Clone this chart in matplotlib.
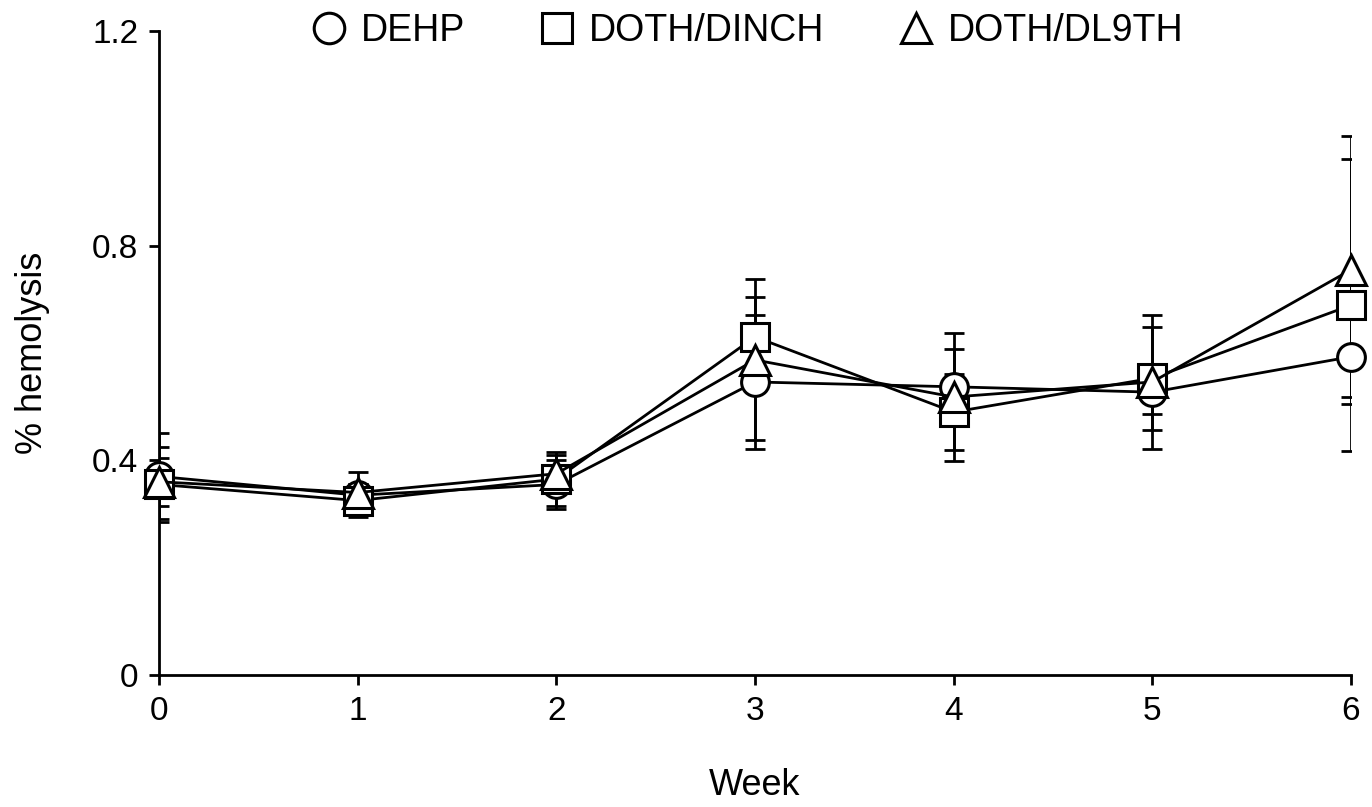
import matplotlib
matplotlib.use('Agg')
import matplotlib.pyplot as plt

plt.rcParams['font.family'] = ['Liberation Sans', 'DejaVu Sans']

weeks = [0, 1, 2, 3, 4, 5, 6]

dehp = [0.37, 0.335, 0.355, 0.546, 0.537, 0.527, 0.593]
dehp_err = [0.08, 0.02, 0.045, 0.125, 0.07, 0.04, 0.075]

dinch = [0.355, 0.325, 0.365, 0.63, 0.49, 0.553, 0.689]
dinch_err = [0.07, 0.03, 0.05, 0.075, 0.07, 0.096, 0.272]

dl9th = [0.36, 0.34, 0.375, 0.587, 0.518, 0.546, 0.755]
dl9th_err = [0.045, 0.038, 0.035, 0.15, 0.12, 0.124, 0.25]

series = [
    ('DEHP', dehp, dehp_err, 'o'),
    ('DOTH/DINCH', dinch, dinch_err, 's'),
    ('DOTH/DL9TH', dl9th, dl9th_err, '^'),
]

fig = plt.figure(figsize=(13.72, 8.07), dpi=100)
ax = fig.add_axes([0.1159, 0.1636, 0.8688, 0.798])

handles = []
for name, vals, errs, mk in series:
    ax.errorbar(weeks, vals, yerr=errs, fmt='none', ecolor='black',
                elinewidth=2, capsize=7, capthick=2, zorder=2)
    h, = ax.plot(weeks, vals, color='black', lw=2, marker=mk,
                 markersize=20 if mk != '^' else 22, markerfacecolor='white',
                 markeredgecolor='black', markeredgewidth=2.2, label=name,
                 zorder=3, clip_on=False)
    handles.append(h)

ax.set_xlim(0, 6)
ax.set_ylim(0, 1.2)
ax.set_xticks(weeks)
ax.set_yticks([0, 0.4, 0.8, 1.2])
ax.set_yticklabels(['0', '0.4', '0.8', '1.2'])
ax.tick_params(axis='both', labelsize=24, direction='out', length=7, width=2, pad=8)
for s in ['top', 'right']:
    ax.spines[s].set_visible(False)
for s in ['left', 'bottom']:
    ax.spines[s].set_linewidth(2)

ax.set_xlabel('Week', fontsize=26, labelpad=30)
ax.set_ylabel('% hemolysis', fontsize=26, labelpad=30)

leg = fig.legend(handles=handles, loc='center', bbox_to_anchor=(0.545, 0.962),
                 ncol=3, frameon=False, fontsize=27, handlelength=0.9,
                 columnspacing=2.0, handletextpad=0.4)
for lh in leg.legend_handles:
    lh.set_linestyle('')
    lh.set_markersize(22)

fig.savefig('out.png', dpi=100)
